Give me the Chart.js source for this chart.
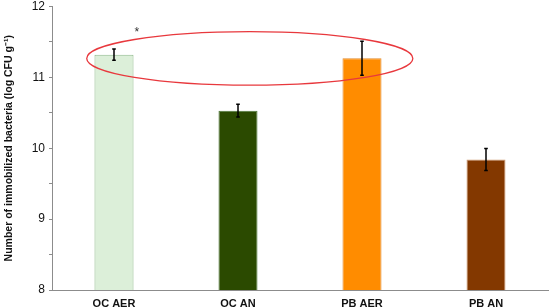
<!DOCTYPE html>
<html>
<head>
<meta charset="utf-8">
<script src="https://cdn.jsdelivr.net/npm/chart.js@4"></script>
<style>
  html, body { margin: 0; padding: 0; background: #fff; }
  #wrap { width: 550px; height: 308px; }
</style>
</head>
<body>
<div id="wrap"><canvas id="bacteria-chart"></canvas></div>
<script>
const categories = ['OC AER', 'OC AN', 'PB AER', 'PB AN'];
const meanValues = [11.32, 10.53, 11.27, 9.84];
const errorValues = [0.08, 0.09, 0.24, 0.155];
const yTicks = [8, 9, 10, 11, 12];
const fillColors = ['#dcefd9', '#2b4a00', '#ff8c00', '#833800'];
const edgeColors = ['#8fb98a', '#4f7a3a', '#e38a2c', '#d09a72'];

// error bars + highlight ellipse + significance mark
const overlayPlugin = {
  id: 'overlay',
  afterDatasetsDraw(chart) {
    const ctx = chart.ctx;
    const x = chart.scales.x;
    const y = chart.scales.y;

    ctx.save();
    ctx.strokeStyle = '#000';
    ctx.lineWidth = 1.5;
    meanValues.forEach((v, i) => {
      const px = x.getPixelForValue(i);
      const top = y.getPixelForValue(v + errorValues[i]);
      const bot = y.getPixelForValue(v - errorValues[i]);
      ctx.beginPath();
      ctx.moveTo(px, top);
      ctx.lineTo(px, bot);
      ctx.moveTo(px - 1.8, top);
      ctx.lineTo(px + 1.8, top);
      ctx.moveTo(px - 1.8, bot);
      ctx.lineTo(px + 1.8, bot);
      ctx.stroke();
    });

    // ellipse around the two aerobic bars
    const left = x.getPixelForValue(-0.22);
    const right = x.getPixelForValue(2.41);
    const upper = y.getPixelForValue(11.645);
    const lower = y.getPixelForValue(10.89);
    ctx.strokeStyle = '#e8383d';
    ctx.lineWidth = 1.3;
    ctx.beginPath();
    ctx.ellipse((left + right) / 2, (upper + lower) / 2, (right - left) / 2, (lower - upper) / 2, 0, 0, Math.PI * 2);
    ctx.stroke();

    ctx.fillStyle = '#333';
    ctx.font = '12px "Liberation Sans", Arial, sans-serif';
    ctx.textAlign = 'center';
    ctx.textBaseline = 'middle';
    ctx.fillText('*', x.getPixelForValue(0.185), y.getPixelForValue(11.63));
    ctx.restore();
  }
};

new Chart(document.getElementById('bacteria-chart'), {
  type: 'bar',
  data: {
    labels: categories,
    datasets: [{
      data: meanValues,
      backgroundColor: fillColors,
      borderColor: edgeColors,
      borderWidth: 1,
      barPercentage: 0.9,
      categoryPercentage: 0.35
    }]
  },
  options: {
    responsive: true,
    maintainAspectRatio: false,
    animation: false,
    layout: { padding: { top: 0, right: 2, left: 0, bottom: 0 } },
    plugins: {
      legend: { display: false },
      tooltip: { enabled: false }
    },
    scales: {
      x: {
        grid: { display: false, drawTicks: false },
        border: { color: '#8c8c8c', width: 1 },
        ticks: {
          color: '#111',
          padding: 7,
          font: { family: '"Liberation Sans", Arial, sans-serif', size: 11, weight: 'bold' }
        },
        afterFit(scale) { scale.height = 18; }
      },
      y: {
        min: 8,
        max: 12,
        grid: {
          drawOnChartArea: false,
          drawTicks: true,
          tickLength: 3,
          color: '#8c8c8c'
        },
        border: { color: '#8c8c8c', width: 1 },
        ticks: {
          stepSize: 0.5,
          color: '#111',
          padding: 4,
          font: { family: '"Liberation Sans", Arial, sans-serif', size: 12 },
          callback(value) {
            return yTicks.includes(value) ? String(value) : '';
          }
        },
        title: {
          display: true,
          text: 'Number of immobilized bacteria (log CFU g\u207B\u00B9)',
          color: '#111',
          padding: { top: 3, bottom: 0 },
          font: { family: '"Liberation Sans", Arial, sans-serif', size: 10.5, weight: 'bold' }
        },
        afterFit(scale) {
          scale.width = 52;
          scale.paddingTop = 6.5;
          scale.paddingBottom = 0;
        }
      }
    }
  },
  plugins: [overlayPlugin]
});
</script>
</body>
</html>
